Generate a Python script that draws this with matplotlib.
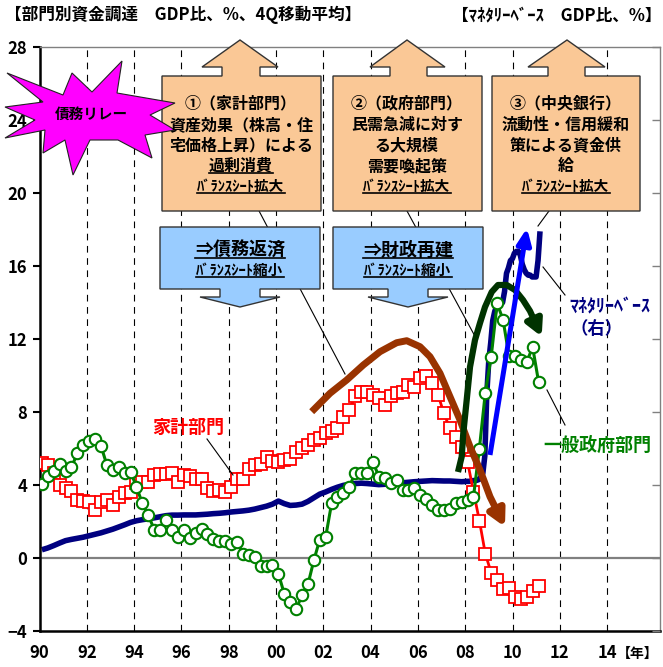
import numpy as np
import matplotlib
matplotlib.use("Agg")
import matplotlib.pyplot as plt
from matplotlib.patches import Polygon, FancyArrowPatch
from matplotlib.path import Path
from matplotlib.lines import Line2D
from matplotlib.transforms import Affine2D

plt.rcParams['font.family'] = ['Noto Sans CJK JP', 'DejaVu Sans']
plt.rcParams['font.weight'] = 'bold'

W, H = 663, 667

# ---- data: quarterly, 1990Q1 - 2011Q1 (GDP ratio, %, 4Q moving average) ----
start_year = 1990
household = [
    5.19, 5.09, 4.64, 3.99,   3.81, 3.68, 3.17, 3.11,   3.08, 2.62, 3.08, 3.17,
    2.90, 3.35, 3.57, 3.63,   4.09, 4.18, 4.18, 4.54,   4.60, 4.60, 4.67, 4.18,
    4.54, 4.49, 4.31, 4.32,   3.81, 3.68, 3.72, 3.63,   3.87, 4.31, 4.31, 4.85,
    5.09, 5.13, 5.55, 5.31,   5.24, 5.37, 5.42, 5.82,   6.01, 6.19, 6.47, 6.56,
    6.85, 6.98, 7.11, 7.71,   8.12, 8.85, 9.12, 9.12,   8.94, 8.76, 8.39, 8.85,
    9.03, 9.12, 9.49, 9.36,   9.86, 9.95, 9.58, 8.94,   7.93, 7.10, 6.62, 6.10,
    5.27, 3.63, 2.05, 0.24,  -0.82, -1.19, -1.68, -1.65, -2.14, -2.23, -2.14, -1.83,
    -1.54,
]
government = [
    4.03, 4.49, 4.78, 5.13,   4.78, 4.97, 5.73, 6.19,   6.43, 6.52, 6.14, 5.09,
    4.82, 5.00, 4.64, 4.73,   3.90, 2.99, 2.35, 1.56,   1.56, 2.07, 1.52, 1.15,
    1.52, 1.12, 1.37, 1.61,   1.34, 1.03, 0.93, 0.92,   0.75, 0.88, 0.24, 0.15,
    0.05, -0.46, -0.46, -0.40, -0.86, -1.96, -2.42, -2.80, -2.05, -1.45, -0.13, 1.01,
    1.15, 2.99, 3.35, 3.54,   3.90, 4.67, 4.67, 4.67,   5.27, 4.45, 4.36, 4.12,
    4.27, 3.72, 3.72, 3.81,   3.44, 3.26, 2.90, 2.62,   2.62, 2.66, 2.99, 3.08,
    3.17, 3.35, 6.00, 9.05,  11.04, 13.95, 13.06, 11.08, 11.08, 10.86, 10.72, 11.57,
    9.67,
]
# monetary base: quarterly 1990Q1 - 2007Q4, then monthly 2008-01 - 2011-02
monetary_base_q = [
    0.45, 0.55, 0.68, 0.82,   0.95, 1.02, 1.08, 1.14,   1.22, 1.30, 1.38, 1.48,
    1.58, 1.70, 1.82, 1.95,   2.04, 2.10, 2.15, 2.20,   2.26, 2.32, 2.35, 2.35,
    2.36, 2.36, 2.36, 2.38,   2.40, 2.43, 2.45, 2.48,   2.52, 2.55, 2.58, 2.62,
    2.68, 2.76, 2.84, 2.95,   3.12, 2.98, 2.88, 2.90,   2.95, 3.10, 3.30, 3.50,
    3.62, 3.76, 3.88, 3.98,   4.04, 4.08, 4.10, 4.08,   4.05, 4.02, 4.04, 4.08,
    4.10, 4.12, 4.15, 4.18,   4.20, 4.22, 4.24, 4.23,   4.22, 4.22, 4.20, 4.18,
]
monetary_base_m = [
    4.20, 4.20, 4.22, 4.24, 4.25, 4.26, 4.30, 4.45, 4.65, 5.60, 9.00, 10.80,
    11.80, 13.00, 13.50, 13.80, 13.90, 14.00, 14.00, 14.60, 15.60, 15.90, 16.30, 16.40,
    16.70, 16.80, 16.80, 16.60, 16.10, 15.80, 15.60, 15.50, 15.50, 15.40, 15.40, 15.40,
    16.30, 17.90,
]
year_ticks = list(range(1990, 2015, 2))
year_labels = ["90", "92", "94", "96", "98", "00", "02", "04", "06", "08", "10", "12", "14"]
value_ticks = [-4, 0, 4, 8, 12, 16, 20, 24, 28]

q_x = start_year + 0.1 + 0.25 * np.arange(len(household))
mb_x = np.concatenate([start_year + 0.1 + 0.25 * np.arange(len(monetary_base_q)),
                       2008 + 0.08 + np.arange(len(monetary_base_m)) / 12.0])
mb_y = np.concatenate([monetary_base_q, monetary_base_m])

# ---- figure / axes ----
fig = plt.figure(figsize=(W / 100, H / 100), dpi=100)
x0, x1, ytop, ybot = 39.5, 660, 47, 631
ax = fig.add_axes([x0 / W, 1 - ybot / H, (x1 - x0) / W, (ybot - ytop) / H])
ax.set_xlim(1990, 1990 + (x1 - x0) / 23.65)
ax.set_ylim(-4, 28)

for yr in year_ticks[1:]:
    ax.axvline(yr, color="black", lw=0.8, dashes=(6, 5), zorder=1)
ax.axhline(0, color="#808080", lw=1.6, zorder=1)

ax.plot(mb_x, mb_y, color="#000080", lw=4.0, solid_capstyle="butt", zorder=2)
ax.plot(q_x, household, color="#FF0000", lw=2.0, marker="s", ms=8.0,
        mfc="white", mec="#FF0000", mew=1.3, zorder=3)
ax.plot(q_x, government, color="#008000", lw=2.2, marker="o", ms=8.2,
        mfc="white", mec="#008000", mew=1.5, zorder=4)

ax.set_yticks(value_ticks)
ax.set_yticklabels([str(v).replace("-", "\u2212") for v in value_ticks],
                   fontsize=12, fontweight="bold")
ax.set_xticks(year_ticks)
ax.set_xticklabels(year_labels, fontsize=12, fontweight="bold")
ax.tick_params(axis="y", direction="out", length=5, width=1.5, pad=4)
ax.tick_params(axis="x", length=0, pad=9)
for s in ("left", "bottom"):
    ax.spines[s].set_linewidth(1.8)
    ax.spines[s].set_color("black")
for s in ("top", "right"):
    ax.spines[s].set_linewidth(1.0)
    ax.spines[s].set_color("#808080")

ax2 = ax.twinx()
ax2.set_ylim(-4, 28)
ax2.set_yticks(value_ticks)
ax2.set_yticklabels([])
ax2.tick_params(axis="y", direction="in", length=6, width=1.0, color="#808080")
for s in ax2.spines.values():
    s.set_visible(False)

fig.text(617 / W, 1 - 654 / H, "【年】", fontsize=10, fontweight="bold",
         ha="left", va="center")

# ---- annotation layer in pixel coordinates (origin top-left) ----
T = Affine2D().scale(1 / W, -1 / H).translate(0, 1) + fig.transFigure


def ptext(x, y, s, **kw):
    kw.setdefault("ha", "center")
    kw.setdefault("va", "center")
    kw.setdefault("fontweight", "bold")
    return fig.text(x / W, 1 - y / H, s, **kw)


def pline(pts, **kw):
    xs, ys = zip(*pts)
    fig.add_artist(Line2D(xs, ys, transform=T, **kw))


def poly(pts, **kw):
    fig.add_artist(Polygon(pts, closed=True, transform=T, **kw))


def arrow(pts, color, lw, hl, hw, z):
    codes = [Path.MOVETO] + [Path.LINETO] * (len(pts) - 1)
    a = FancyArrowPatch(path=Path(pts, codes), transform=T,
                        arrowstyle=f"-|>,head_length={hl},head_width={hw}",
                        mutation_scale=10, color=color, lw=lw,
                        joinstyle="round", capstyle="butt", zorder=z)
    fig.add_artist(a)


# titles
ptext(5, 15, "【部門別資金調達　GDP比、%、4Q移動平均】", fontsize=12, ha="left")
ptext(661, 15, "【ﾏﾈﾀﾘｰﾍﾞｰｽ　GDP比、%】", fontsize=12, ha="right")

# leader lines
lk = dict(color="black", lw=0.8, zorder=5)
pline([(207, 439), (233, 475)], **lk)
pline([(258, 209), (345, 374)], **lk)
pline([(407, 211), (477, 340)], **lk)
pline([(549, 211), (538, 226)], **lk)
pline([(543, 267), (565, 295)], **lk)
pline([(547, 390), (565, 425)], **lk)

# trend arrows
arrow([(311.7, 411.7), (330, 393.3), (346.7, 380), (363.3, 365), (380, 351.7),
       (396.7, 342.7), (406.7, 340.7), (420, 346.7), (430, 356.7), (440, 373.3),
       (450, 396.7), (460, 420), (470, 446.7), (480, 470), (490, 496.7),
       (505, 527)], "#993300", 5.0, 0.95, 0.5, 6)
arrow([(458, 472), (461.7, 456.7), (463.3, 433), (466.7, 400), (470, 367),
       (475, 340), (480, 323), (485, 307), (491.7, 292), (498, 285),
       (506.7, 285), (515, 290), (523, 300), (530, 311), (541.7, 336.7)],
      "#003300", 4.5, 0.95, 0.5, 6)
arrow([(490, 455), (527, 228)], "#0000FF", 3.6, 0.95, 0.42, 6)

# up-arrow callouts (orange)
orange = "#FAC896"
for (l, r, sl, sr, hl_, hr_, ax_) in [(162, 321, 222, 260, 202, 278, 240),
                                      (333, 482, 390, 427, 370, 445, 407),
                                      (492, 640, 548, 585, 528, 605, 567)]:
    poly([(l, 211), (r, 211), (r, 76), (sr, 76), (sr, 67), (hr_, 67), (ax_, 40),
          (hl_, 67), (sl, 67), (sl, 76), (l, 76)],
         facecolor=orange, edgecolor="#333333", lw=1.0, zorder=7)

# down-arrow callouts (blue)
blue = "#99CCFF"
for (l, r, c) in [(160, 320, 240), (333, 483, 408)]:
    poly([(l, 227), (r, 227), (r, 289), (c + 20, 289), (c + 20, 297), (c + 40, 297),
          (c, 307), (c - 40, 297), (c - 20, 297), (c - 20, 289), (l, 289)],
         facecolor=blue, edgecolor="#333333", lw=1.0, zorder=7)

# burst
burst = [(7, 73), (63, 95), (72, 73), (92, 92), (122, 61), (117, 93), (175, 103),
         (150, 115), (175, 130), (145, 135), (152, 158), (118, 140), (90, 140),
         (73, 175), (65, 140), (43, 153), (45, 130), (5, 138), (35, 120),
         (5, 107), (43, 102)]
poly(burst, facecolor="#FF00FF", edgecolor="#222222", lw=0.8, zorder=8)
ptext(91, 114, "債務リレー", fontsize=10.5, zorder=9)

# callout texts
underlined = []
box_lines = [
    (241, ["①（家計部門）", "資産効果（株高・住", "宅価格上昇）による", "過剰消費"]),
    (407, ["②（政府部門）", "民需急減に対す", "る大規模", "需要喚起策"]),
    (566, ["③（中央銀行）", "流動性・信用緩和", "策による資金供", "給"]),
]
for cx, lines in box_lines:
    for k, (s, yy) in enumerate(zip(lines, [103, 125, 145, 166])):
        t = ptext(cx, yy, s, fontsize=11.5, zorder=9)
        if cx == 241 and k == 3:
            underlined.append(t)
    underlined.append(ptext(cx, 186, "ﾊﾞﾗﾝｽｼｰﾄ拡大", fontsize=10.5, zorder=9))

for cx, s in [(240, "⇒債務返済"), (408, "⇒財政再建")]:
    underlined.append(ptext(cx, 250, s, fontsize=13, zorder=9))
    underlined.append(ptext(cx, 270, "ﾊﾞﾗﾝｽｼｰﾄ縮小", fontsize=10.5, zorder=9))

# series labels
ptext(188, 427, "家計部門", fontsize=13, color="#FF0000", zorder=9)
ptext(597, 445, "一般政府部門", fontsize=13, color="#008000", zorder=9)
ptext(569, 307, "ﾏﾈﾀﾘｰﾍﾞｰｽ", fontsize=13, color="#000080", ha="left", zorder=9)
ptext(570, 329, "（右）", fontsize=12.5, color="#000080", ha="left", zorder=9)

fig.canvas.draw()
r = fig.canvas.get_renderer()
for t in underlined:
    bb = t.get_window_extent(r)
    fig.add_artist(Line2D([bb.x0 / W, bb.x1 / W], [(bb.y0 + 1.5) / H] * 2,
                          transform=fig.transFigure, color="black", lw=1.2,
                          zorder=9))

fig.savefig("out.png", dpi=100)
